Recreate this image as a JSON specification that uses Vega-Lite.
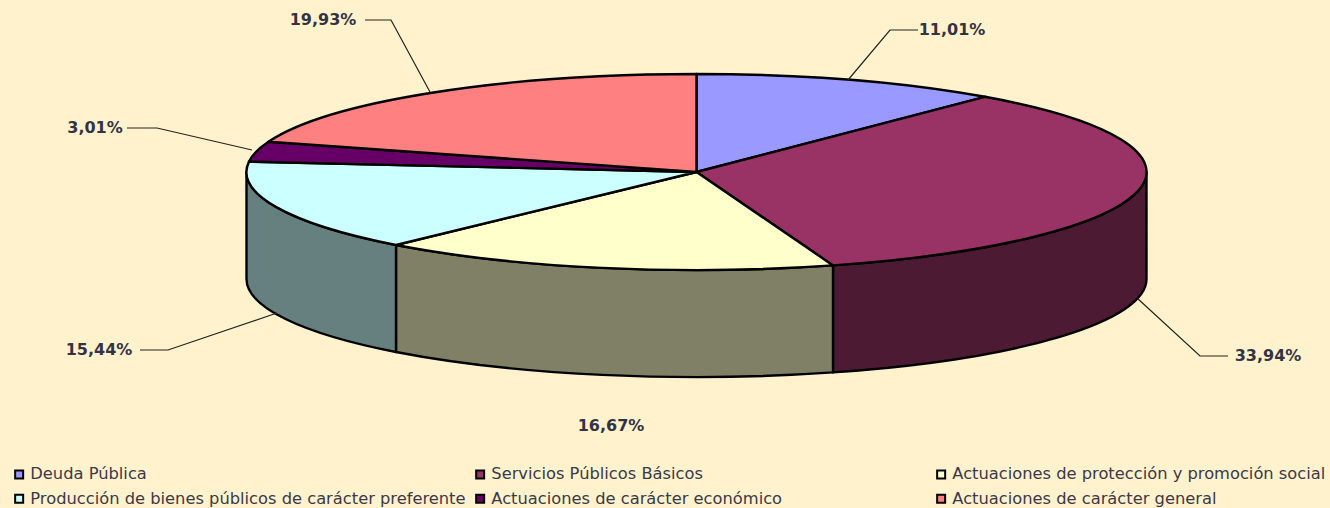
{
  "$schema": "https://vega.github.io/schema/vega-lite/v6.json",
  "width": 1330,
  "height": 508,
  "padding": 0,
  "autosize": {"type": "none"},
  "background": "#FFF2CC",
  "config": {"view": {"stroke": null}},
  "data": {"values": [
    {"slice": "Deuda Pública", "percent": 11.01, "label": "11,01%"},
    {"slice": "Servicios Públicos Básicos", "percent": 33.94, "label": "33,94%"},
    {"slice": "Actuaciones de protección y promoción social", "percent": 16.67, "label": "16,67%"},
    {"slice": "Producción de bienes públicos de carácter preferente", "percent": 15.44, "label": "15,44%"},
    {"slice": "Actuaciones de carácter económico", "percent": 3.01, "label": "3,01%"},
    {"slice": "Actuaciones de carácter general", "percent": 19.93, "label": "19,93%"}
  ]},
  "layer": [
    {
      "mark": {"type": "square", "opacity": 1},
      "encoding": {
        "x": {"datum": 0, "type": "quantitative", "axis": null, "scale": {"domain": [-696.5, 633.5], "range": [0, 1330], "nice": false, "zero": false}},
        "y": {"datum": 0, "type": "quantitative", "axis": null, "scale": {"domain": [-172, 336], "range": [0, 508], "nice": false, "zero": false}},
        "size": {"value": 1},
        "color": {"field": "slice", "type": "nominal", "sort": null,
          "scale": {
            "domain": ["Deuda Pública", "Servicios Públicos Básicos", "Actuaciones de protección y promoción social", "Producción de bienes públicos de carácter preferente", "Actuaciones de carácter económico", "Actuaciones de carácter general"],
            "range": ["#9999FF", "#993366", "#FFFFCC", "#CCFFFF", "#660066", "#FF8080"]},
          "legend": {
            "title": null, "orient": "none", "legendX": 11, "legendY": 466,
            "columns": 3, "direction": "horizontal", "gridAlign": "all",
            "columnPadding": 6, "rowPadding": 7.5,
            "symbolType": "square", "symbolSize": 64, "symbolStrokeColor": "black", "symbolStrokeWidth": 2, "symbolOpacity": 1,
            "labelFont": "DejaVu Sans", "labelFontSize": 16.3, "labelColor": "#3A3A4A", "labelOffset": 3, "labelLimit": 0
          }}
      }
    },
    {
      "transform": [{"filter": {"field": "slice", "oneOf": ["Servicios Públicos Básicos", "Actuaciones de protección y promoción social", "Producción de bienes públicos de carácter preferente"]}}],
      "mark": {"type": "point", "filled": true, "opacity": 1, "stroke": "black", "strokeWidth": 2.4, "strokeJoin": "round"},
      "encoding": {
        "x": {"datum": 0, "type": "quantitative", "axis": null, "scale": {"domain": [-696.5, 633.5], "range": [0, 1330], "nice": false, "zero": false}},
        "y": {"datum": 0, "type": "quantitative", "axis": null, "scale": {"domain": [-172, 336], "range": [0, 508], "nice": false, "zero": false}},
        "size": {"value": 4},
        "shape": {"field": "slice", "type": "nominal", "legend": null, "scale": {
          "domain": ["Servicios Públicos Básicos", "Actuaciones de protección y promoción social", "Producción de bienes públicos de carácter preferente"],
          "range": [
            "M450 0A450 98 0 0 1 136.5 93.4L136.5 200.4A450 98 0 0 0 450 107Z",
            "M136.5 93.4A450 98 0 0 1 -300.5 73L-300.5 180A450 98 0 0 0 136.5 200.4Z",
            "M-300.5 73A450 98 0 0 1 -450 0L-450 107A450 98 0 0 0 -300.5 180Z"
          ]}},
        "fill": {"field": "slice", "type": "nominal", "legend": null, "scale": {
          "domain": ["Servicios Públicos Básicos", "Actuaciones de protección y promoción social", "Producción de bienes públicos de carácter preferente"],
          "range": ["#4D1A33", "#808066", "#668080"]}}
      }
    },
    {
      "mark": {"type": "point", "filled": true, "opacity": 1, "stroke": "black", "strokeWidth": 2.4, "strokeJoin": "round"},
      "encoding": {
        "x": {"datum": 0, "type": "quantitative", "axis": null, "scale": {"domain": [-696.5, 633.5], "range": [0, 1330], "nice": false, "zero": false}},
        "y": {"datum": 0, "type": "quantitative", "axis": null, "scale": {"domain": [-172, 336], "range": [0, 508], "nice": false, "zero": false}},
        "size": {"value": 4},
        "shape": {"field": "slice", "type": "nominal", "legend": null, "scale": {
          "domain": ["Deuda Pública", "Servicios Públicos Básicos", "Actuaciones de protección y promoción social", "Producción de bienes públicos de carácter preferente", "Actuaciones de carácter económico", "Actuaciones de carácter general"],
          "range": [
            "M0 0L0 -98A450 98 0 0 1 288.5 -75.2Z",
            "M0 0L288.5 -75.2A450 98 0 0 1 136.5 93.4Z",
            "M0 0L136.5 93.4A450 98 0 0 1 -300.5 73Z",
            "M0 0L-300.5 73A450 98 0 0 1 -447.5 -10.4Z",
            "M0 0L-447.5 -10.4A450 98 0 0 1 -428 -30.3Z",
            "M0 0L-428 -30.3A450 98 0 0 1 0 -98Z"
          ]}},
        "fill": {"field": "slice", "type": "nominal", "legend": null, "scale": {
          "domain": ["Deuda Pública", "Servicios Públicos Básicos", "Actuaciones de protección y promoción social", "Producción de bienes públicos de carácter preferente", "Actuaciones de carácter económico", "Actuaciones de carácter general"],
          "range": ["#9999FF", "#993366", "#FFFFCC", "#CCFFFF", "#660066", "#FF8080"]}}
      }
    },
    {
      "transform": [{"filter": {"field": "slice", "oneOf": ["Deuda Pública", "Servicios Públicos Básicos", "Producción de bienes públicos de carácter preferente", "Actuaciones de carácter económico", "Actuaciones de carácter general"]}}],
      "mark": {"type": "point", "filled": false, "opacity": 1, "stroke": "#222222", "strokeWidth": 1.2},
      "encoding": {
        "x": {"datum": 0, "type": "quantitative", "axis": null, "scale": {"domain": [-696.5, 633.5], "range": [0, 1330], "nice": false, "zero": false}},
        "y": {"datum": 0, "type": "quantitative", "axis": null, "scale": {"domain": [-172, 336], "range": [0, 508], "nice": false, "zero": false}},
        "size": {"value": 4},
        "shape": {"field": "slice", "type": "nominal", "legend": null, "scale": {
          "domain": ["Deuda Pública", "Servicios Públicos Básicos", "Producción de bienes públicos de carácter preferente", "Actuaciones de carácter económico", "Actuaciones de carácter general"],
          "range": [
            "M151.5 -92L193.5 -142L221.5 -142",
            "M440.5 126L503.5 184L531.5 184",
            "M-419.5 141L-528.5 178L-556.5 178",
            "M-444.5 -22L-539.5 -44L-569.5 -44",
            "M-266.5 -80L-305.5 -152L-331.5 -152"
          ]}}
      }
    },
    {
      "mark": {"type": "text", "font": "DejaVu Sans", "fontWeight": "bold", "fontSize": 16, "color": "#333344", "align": "center", "baseline": "middle"},
      "encoding": {
        "x": {"field": "percent", "type": "quantitative", "axis": null, "scale": {"domain": [3.01, 11.01, 15.44, 16.67, 19.93, 33.94], "range": [95, 952, 99, 611, 323, 1268], "nice": false, "zero": false}},
        "y": {"field": "percent", "type": "quantitative", "axis": null, "scale": {"domain": [3.01, 11.01, 15.44, 16.67, 19.93, 33.94], "range": [128, 30, 350, 426, 20, 356], "nice": false, "zero": false}},
        "text": {"field": "label"}
      }
    }
  ],
  "resolve": {"scale": {"x": "independent", "y": "independent", "shape": "independent", "color": "independent", "fill": "independent"}}
}
